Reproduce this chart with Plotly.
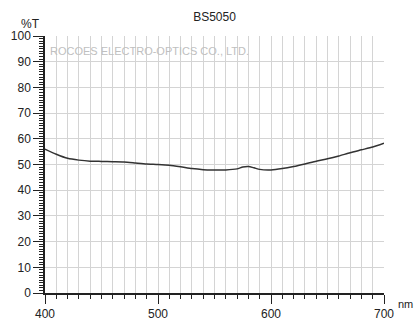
import plotly.graph_objects as go

wavelength = [400, 410, 420, 430, 440, 450, 460, 470, 480, 490, 500, 510, 520, 530, 540,
              550, 560, 570, 575, 580, 585, 590, 600, 610, 620, 630, 640, 650, 660, 670,
              680, 690, 700]
transmission = [56.0, 54.0, 52.4, 51.7, 51.3, 51.2, 51.1, 51.0, 50.6, 50.2, 50.0, 49.7, 49.1,
                48.4, 48.0, 47.9, 47.9, 48.3, 49.0, 49.2, 48.7, 48.1, 47.9, 48.4, 49.2, 50.2,
                51.3, 52.2, 53.3, 54.6, 55.7, 56.8, 58.3]
x_ticks = [400, 500, 600, 700]
y_ticks = [0, 10, 20, 30, 40, 50, 60, 70, 80, 90, 100]
title = "BS5050"
watermark = "ROCOES ELECTRO-OPTICS CO., LTD."

FONT = "Liberation Sans, Arial, sans-serif"
GRID = "#d4d4d4"
INK = "#222222"

fig = go.Figure()
fig.add_trace(go.Scatter(x=wavelength, y=transmission, mode="lines",
                         line=dict(color="#333333", width=1.5, shape="spline", smoothing=0.6),
                         hoverinfo="skip", showlegend=False))

fig.update_layout(
    width=416, height=333,
    margin=dict(l=45, r=32, t=36, b=32),
    paper_bgcolor="white", plot_bgcolor="white",
    font=dict(family=FONT, size=12, color=INK),
    title=dict(text=title, x=214.5 / 416, xanchor="center", y=1 - 17 / 333, yanchor="middle",
               font=dict(family=FONT, size=12, color=INK)),
    xaxis=dict(range=[400, 700], tickvals=x_ticks, ticks="outside", ticklen=9, tickwidth=1,
               tickcolor=INK, showline=True, linecolor=INK, linewidth=1.5,
               showgrid=True, gridcolor=GRID, gridwidth=1, zeroline=False,
               minor=dict(dtick=10, ticks="outside", ticklen=4, tickcolor=INK,
                          tickwidth=1, showgrid=True, gridcolor=GRID, gridwidth=1)),
    yaxis=dict(range=[0, 100], tickvals=y_ticks, ticks="outside", ticklen=10, tickwidth=1,
               tickcolor=INK, showline=True, linecolor=INK, linewidth=1.5,
               showgrid=True, gridcolor=GRID, gridwidth=1, zeroline=False,
               automargin=False,
               minor=dict(dtick=1, ticks="outside", ticklen=4, tickcolor=INK,
                          tickwidth=1, showgrid=False)),
    annotations=[
        dict(text="%T", xref="paper", yref="paper", x=0, y=1.0, xshift=-3, yshift=12,
             xanchor="right", yanchor="middle", showarrow=False,
             font=dict(family=FONT, size=12, color=INK)),
        dict(text="nm", xref="paper", yref="paper", x=1.0, y=0, xshift=31, yshift=-11,
             xanchor="right", yanchor="middle", showarrow=False,
             font=dict(family=FONT, size=11, color=INK)),
        dict(text=watermark, xref="paper", yref="paper", x=0, y=1, xshift=3, yshift=-15,
             xanchor="left", yanchor="middle", showarrow=False,
             font=dict(family=FONT, size=11, color="#c0c0c0")),
    ],
)

fig.write_html("out.html")
